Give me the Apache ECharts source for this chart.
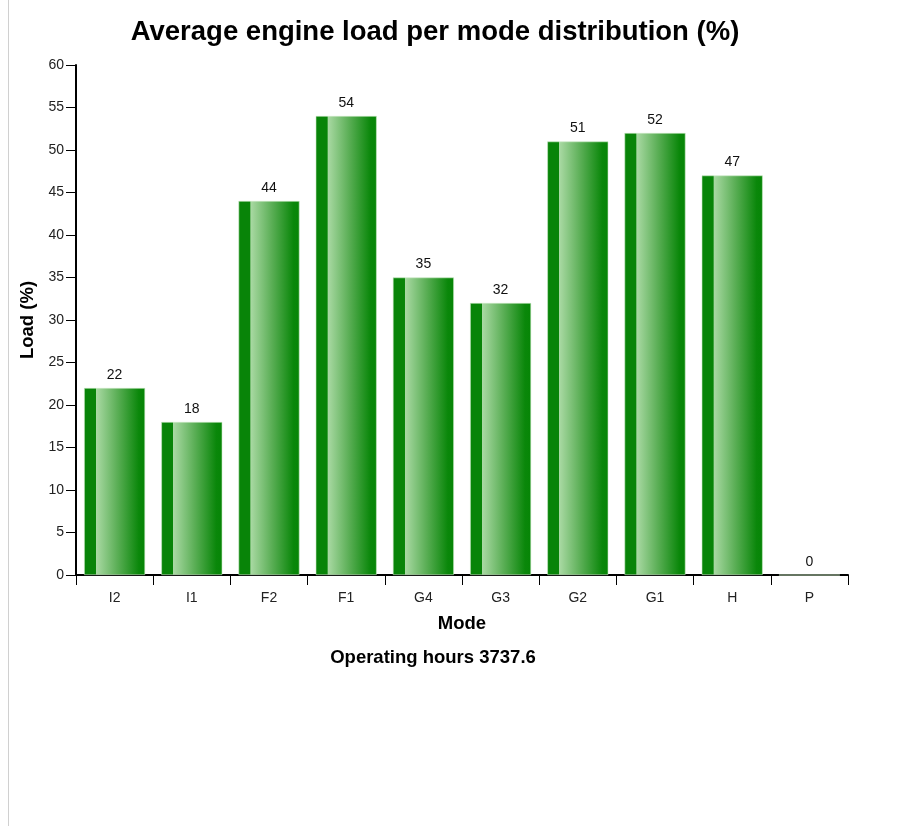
<!DOCTYPE html>
<html>
<head>
<meta charset="utf-8">
<script src="https://cdn.jsdelivr.net/npm/echarts@6/dist/echarts.min.js"></script>
<style>
html,body{margin:0;padding:0;background:#fff;}
#chart{width:909px;height:826px;}
</style>
</head>
<body>
<div id="chart"></div>
<script>
var categories = ['I2','I1','F2','F1','G4','G3','G2','G1','H','P'];
var loadValues = [22,18,44,54,35,32,51,52,47,0];
var yTicks = {min:0, max:60, interval:5};
var operatingHours = 3737.6;

var chart = echarts.init(document.getElementById('chart'), null, {renderer:'canvas'});
var font = '"Liberation Sans", Arial, sans-serif';
var barGrad = new echarts.graphic.LinearGradient(0,0,1,0,[
  {offset:0, color:'#088408'},
  {offset:0.19, color:'#088408'},
  {offset:0.2, color:'#a9d9a3'},
  {offset:0.55, color:'#5aae55'},
  {offset:0.9, color:'#0a870a'},
  {offset:1, color:'#068506'}
]);
chart.setOption({
  animation:false,
  backgroundColor:'#fff',
  textStyle:{fontFamily:font},
  title:{
    text:'Average engine load per mode distribution (%)',
    left:430, top:13, textAlign:'center',
    textStyle:{fontSize:27.5, fontWeight:'bold', color:'#000', fontFamily:font}
  },
  grid:{left:76, right:61, top:65, bottom:251, containLabel:false},
  xAxis:{
    type:'category', data:categories,
    name:'Mode', nameLocation:'middle', nameGap:39,
    nameTextStyle:{fontSize:18.5, fontWeight:'bold', color:'#000', fontFamily:font},
    axisLine:{lineStyle:{color:'#000', width:2}},
    axisTick:{show:true, length:10, lineStyle:{color:'#000', width:1}},
    axisLabel:{fontSize:14, color:'#222', margin:16, fontFamily:font}
  },
  yAxis:{
    type:'value', min:yTicks.min, max:yTicks.max, interval:yTicks.interval,
    name:'Load (%)', nameLocation:'middle', nameGap:35,
    nameTextStyle:{fontSize:18.5, fontWeight:'bold', color:'#000', fontFamily:font},
    axisLine:{show:true, lineStyle:{color:'#000', width:2}},
    axisTick:{show:true, length:10, lineStyle:{color:'#000', width:1}},
    axisLabel:{fontSize:14, color:'#222', margin:12, fontFamily:font},
    splitLine:{show:false}
  },
  series:[{
    type:'bar', data:loadValues, barWidth:61,
    itemStyle:{color:barGrad, borderColor:'#c9e8c4', borderWidth:0.6},
    label:{show:true, position:'top', distance:6, fontSize:14, color:'#111', fontFamily:font}
  }],
  graphic:[
    {type:'line', shape:{x1:8.5,y1:0,x2:8.5,y2:826}, style:{stroke:'#d0d0d0', lineWidth:1}},
    {type:'text', x:433, y:648,
     style:{text:'Operating hours ' + operatingHours, align:'center', fill:'#000', font:'bold 18.5px ' + font}}
  ]
});
</script>
</body>
</html>
